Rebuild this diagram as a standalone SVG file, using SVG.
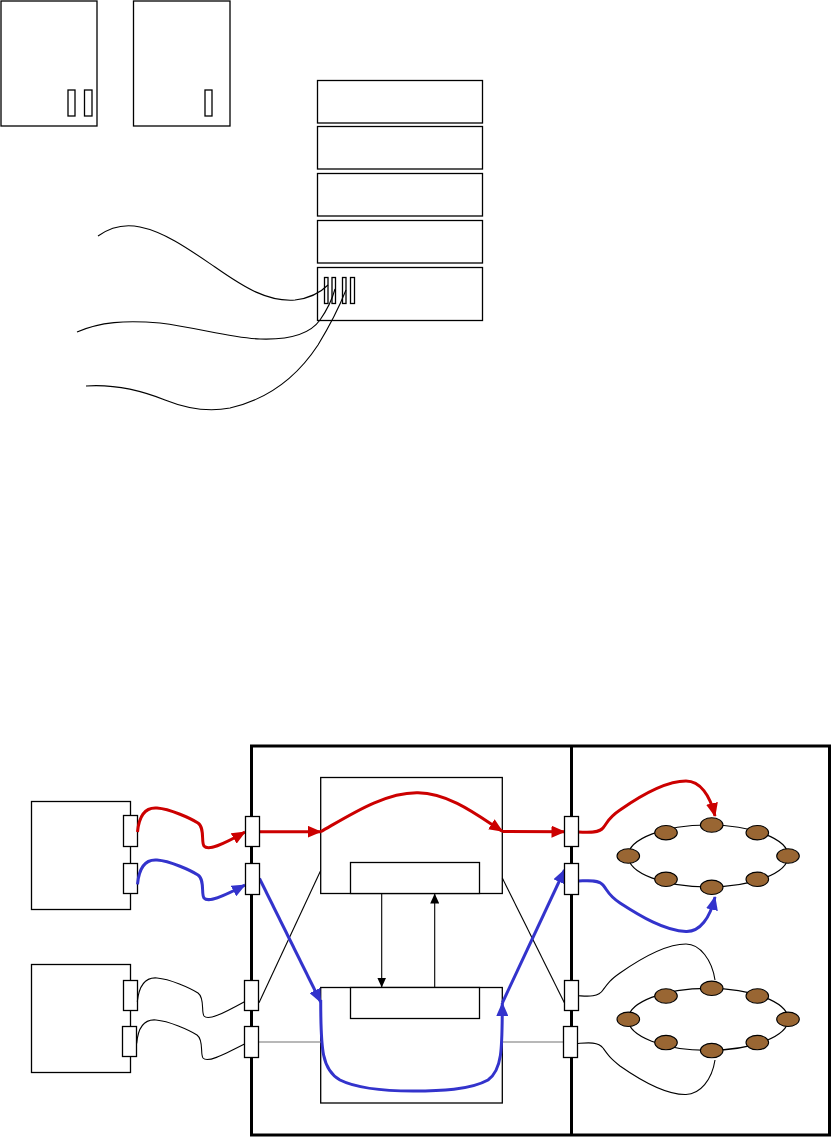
<svg xmlns="http://www.w3.org/2000/svg" width="832" height="1138" viewBox="0 0 832 1138">
<style>
.box{fill:#fff;stroke:#000;stroke-width:1.3}
.port{fill:#fff;stroke:#000;stroke-width:1.3}
.wire{fill:none;stroke:#000;stroke-width:1.1}
.frame{fill:none;stroke:#000;stroke-width:3}
.red{fill:none;stroke:#cc0000;stroke-width:3}
.blue{fill:none;stroke:#3333cc;stroke-width:3}
.gray{fill:none;stroke:#a0a0a0;stroke-width:1.6}
.node{fill:#996633;stroke:#000;stroke-width:1.1}
.ring{fill:none;stroke:#000;stroke-width:1.2}
</style>
<defs>
<marker id="ar" viewBox="0 0 14 12" refX="13" refY="6" markerWidth="14" markerHeight="12" markerUnits="userSpaceOnUse" orient="auto"><path d="M0,0 L14,6 L0,12 z" fill="#cc0000"/></marker>
<marker id="ab" viewBox="0 0 14 12" refX="13" refY="6" markerWidth="14" markerHeight="12" markerUnits="userSpaceOnUse" orient="auto"><path d="M0,0 L14,6 L0,12 z" fill="#3333cc"/></marker>
<marker id="ak" viewBox="0 0 10 9" refX="10" refY="4.5" markerWidth="10" markerHeight="9" markerUnits="userSpaceOnUse" orient="auto"><path d="M0,0 L10,4.5 L0,9 z" fill="#000"/></marker>
</defs>

<!-- top section -->
<g id="server1">
<rect class="box" x="1" y="1" width="96" height="125"/>
<rect class="port" x="68" y="90" width="7" height="26"/>
<rect class="port" x="84.5" y="90" width="7.5" height="26"/>
</g>
<g id="server2">
<rect class="box" x="133.5" y="1" width="96.5" height="125"/>
<rect class="port" x="205" y="90" width="7" height="26"/>
</g>
<g id="stack">
<rect class="box" x="317.5" y="80.5" width="165" height="42.5"/>
<rect class="box" x="317.5" y="126.5" width="165" height="42.5"/>
<rect class="box" x="317.5" y="173.5" width="165" height="42.5"/>
<rect class="box" x="317.5" y="220.5" width="165" height="42.5"/>
<rect class="box" x="317.5" y="267.5" width="165" height="53"/>
<rect class="port" x="324.5" y="277.5" width="3.5" height="26"/>
<rect class="port" x="332" y="277.5" width="3.5" height="26"/>
<rect class="port" x="342.5" y="277.5" width="3.5" height="26"/>
<rect class="port" x="350.5" y="277.5" width="4" height="26"/>
</g>
<g id="cables-top">
<path class="wire" d="M98,236 C112,226 126,224 140,227 C165,232 190,250 215,267 C245,288 268,302 295,300 C312,298 322,291 328,285"/>
<path class="wire" d="M77,332 C100,322 125,320 160,323 C200,328 230,338 260,339 C290,340 310,334 320,320 C327,310 332,300 335,289"/>
<path class="wire" d="M86,386 C115,384 140,390 165,400 C190,410 210,412 230,408 C265,400 295,380 318,345 C332,322 340,305 346,290"/>
</g>

<!-- bottom section -->
<g id="frame">
<rect class="frame" x="251.5" y="746" width="578" height="389"/>
<line class="frame" x1="571.5" y1="746" x2="571.5" y2="1135"/>
</g>

<g id="hostA">
<rect class="box" x="31.5" y="801.5" width="99" height="108"/>
<rect class="port" x="123.5" y="815.5" width="14" height="31"/>
<rect class="port" x="123.5" y="863.5" width="14" height="30"/>
</g>
<g id="hostB">
<rect class="box" x="31.5" y="964.5" width="99" height="108"/>
<rect class="port" x="123.5" y="980.5" width="14" height="30"/>
<rect class="port" x="122.5" y="1026.5" width="14" height="30"/>
</g>

<g id="switchTop">
<rect class="box" x="320.7" y="777.5" width="181.6" height="116"/>
<rect class="box" x="350.5" y="862.5" width="129" height="31"/>
</g>
<g id="switchBottom">
<rect class="box" x="320.7" y="987.5" width="181.6" height="115.5"/>
<rect class="box" x="350.5" y="987.5" width="129" height="31"/>
</g>

<g id="connectors">
<line class="gray" x1="259" y1="1042" x2="320.7" y2="1042"/>
<line class="gray" x1="502.3" y1="1042" x2="563.5" y2="1042"/>
<line class="wire" x1="259" y1="1002.7" x2="320.7" y2="870.5"/>
<line class="wire" x1="502.3" y1="878" x2="564.5" y2="1003"/>
<line class="wire" x1="381.7" y1="893.5" x2="381.7" y2="987.5" marker-end="url(#ak)"/>
<line class="wire" x1="434.7" y1="987.5" x2="434.7" y2="893.5" marker-end="url(#ak)"/>

<path class="red" d="M137.5,832 C139,816 145,807 157,808 C170,809 190,818 198,823 C205,828 201,842 204,846 C208,851 222,845 245,832" marker-end="url(#ar)"/>
<line class="red" x1="259.5" y1="831.7" x2="320.7" y2="831.7" marker-end="url(#ar)"/>
<path class="red" d="M320.7,831.7 C350,815 385,792 418,792.7 C450,793 480,817 502.3,831.3" marker-end="url(#ar)"/>
<line class="red" x1="502.3" y1="831.5" x2="564.5" y2="831.7" marker-end="url(#ar)"/>
<path class="red" d="M578.5,832 C585,832 598,834 603,828 C608,822 608,818 620,810 C640,796 665,781 686,781 C700,781 710,795 715,816" marker-end="url(#ar)"/>

<path class="blue" d="M137.5,884.3 C139,868 145,859 157,860 C170,861 190,870 198,875 C205,880 201,894 204,898 C208,903 222,897 245,885" marker-end="url(#ab)"/>
<line class="blue" x1="259.5" y1="878.5" x2="320.7" y2="1002" marker-end="url(#ab)"/>
<path class="blue" d="M320.7,1000 C320.7,1050 322,1070 340,1080 C360,1090 390,1091 413,1091 C440,1091 470,1090 488,1080 C502,1070 502.3,1050 502.3,1003" marker-end="url(#ab)"/>
<line class="blue" x1="502.3" y1="1003" x2="564.5" y2="870" marker-end="url(#ab)"/>
<path class="blue" d="M578.5,881 C585,881 598,879 603,885 C608,891 608,895 620,903 C640,916 665,931 686,931.5 C700,932 710,918 715,897" marker-end="url(#ab)"/>

<path class="wire" d="M137.3,1001.7 C139,986 145,977 157,978 C170,979 190,988 198,993 C205,998 201,1012 204,1016 C208,1021 222,1014 244.5,1001.7"/>
<path class="wire" d="M136.7,1043.5 C138,1028 144,1019 156,1020 C169,1021 189,1030 197,1035 C204,1040 200,1054 203,1058 C207,1063 221,1056 244.5,1044"/>
<path class="wire" d="M578,995.7 C585,996 598,998 603,990 C608,983 610,980 620,973 C640,959 665,944 686,944 C700,944 712,960 715,980"/>
<path class="wire" d="M577,1043.5 C585,1043 598,1041 603,1048 C608,1055 610,1058 620,1066 C640,1080 665,1095 686,1094.5 C700,1094 712,1080 715,1060"/>
</g>

<g id="ports-left">
<rect class="port" x="245.5" y="816.5" width="14" height="30"/>
<rect class="port" x="245.5" y="863.5" width="14" height="31"/>
<rect class="port" x="244.5" y="980.5" width="14" height="30"/>
<rect class="port" x="244.5" y="1026.5" width="14" height="31"/>
</g>
<g id="ports-right">
<rect class="port" x="564.5" y="816.5" width="14" height="30"/>
<rect class="port" x="564.5" y="863.5" width="14" height="31"/>
<rect class="port" x="564.5" y="980.5" width="14" height="30"/>
<rect class="port" x="563.5" y="1026.5" width="14" height="31"/>
</g>

<g id="ring1">
<ellipse class="ring" cx="708.2" cy="856" rx="80" ry="31"/>
<ellipse class="node" cx="666" cy="832.7" rx="11.3" ry="7.2"/>
<ellipse class="node" cx="711.7" cy="825" rx="11.3" ry="7.2"/>
<ellipse class="node" cx="757.3" cy="832.7" rx="11.3" ry="7.2"/>
<ellipse class="node" cx="788" cy="856" rx="11.3" ry="7.2"/>
<ellipse class="node" cx="757.3" cy="879.3" rx="11.3" ry="7.2"/>
<ellipse class="node" cx="711.7" cy="887.3" rx="11.3" ry="7.2"/>
<ellipse class="node" cx="666" cy="879.3" rx="11.3" ry="7.2"/>
<ellipse class="node" cx="628.3" cy="856" rx="11.3" ry="7.2"/>
</g>
<g id="ring2">
<ellipse class="ring" cx="708.2" cy="1019.3" rx="80" ry="31"/>
<ellipse class="node" cx="666" cy="996" rx="11.3" ry="7.2"/>
<ellipse class="node" cx="711.7" cy="988.3" rx="11.3" ry="7.2"/>
<ellipse class="node" cx="757.3" cy="996" rx="11.3" ry="7.2"/>
<ellipse class="node" cx="788" cy="1019.3" rx="11.3" ry="7.2"/>
<ellipse class="node" cx="757.3" cy="1042.6" rx="11.3" ry="7.2"/>
<ellipse class="node" cx="711.7" cy="1050.6" rx="11.3" ry="7.2"/>
<ellipse class="node" cx="666" cy="1042.6" rx="11.3" ry="7.2"/>
<ellipse class="node" cx="628.3" cy="1019.3" rx="11.3" ry="7.2"/>
</g>
</svg>
